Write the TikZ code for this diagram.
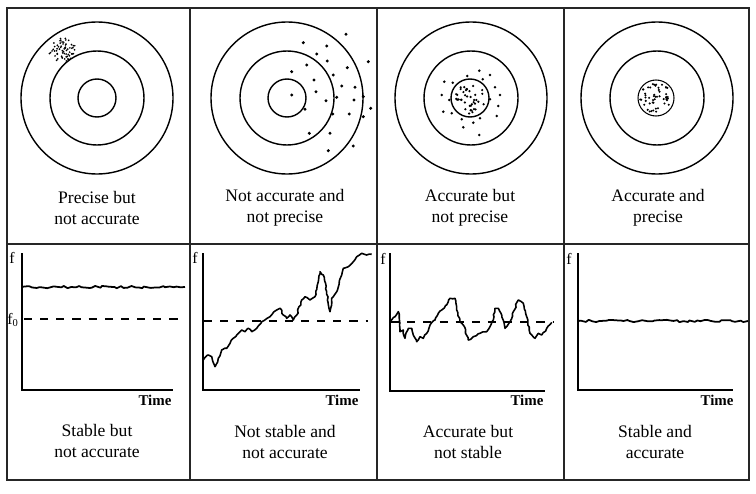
\documentclass[tikz,border=0pt]{standalone}
\usepackage{fontspec}
\setmainfont{Liberation Serif}
\usetikzlibrary{decorations.pathmorphing}
\begin{document}
\begin{tikzpicture}[x=0.02cm,y=-0.02cm,
  frame/.style={line width=0.7pt,black!85},
  ring/.style={line width=0.8pt},
  axisline/.style={line width=1.1pt},
  sig/.style={line width=0.9pt,line join=round,decorate,decoration={random steps,segment length=1.6pt,amplitude=0.45pt}},
  flatsig/.style={line width=1pt,line join=round,decorate,decoration={random steps,segment length=2pt,amplitude=0.7pt}},
  refline/.style={line width=0.8pt,dash pattern=on 4.6pt off 4.6pt},
  captxt/.style={align=center,font=\fontsize{10}{12}\selectfont,inner sep=0pt},
  tlab/.style={font=\fontsize{8.5}{10}\selectfont\bfseries,inner sep=0pt},
  flab/.style={font=\fontsize{9}{10}\selectfont,inner sep=0pt},
  dotm/.style={fill=black}]
\useasboundingbox (0,0) rectangle (756,493);
% frame
\draw[frame] (7,8) rectangle (749,480);
\draw[frame] (7,244) -- (749,244);
\foreach \xx in {190,377,564} \draw[frame] (\xx,8) -- (\xx,480);
% targets
\foreach \cx/\cy in {97/98,287/98,471/98,657/98}{
  \draw[ring] (\cx,\cy) circle[radius=76];
  \draw[ring] (\cx,\cy) circle[radius=47];
}
\foreach \cx/\cy in {97/98,287/98,470/98}
  \draw[ring] (\cx,\cy) circle[radius=19];
\draw[line width=0.6pt] (656,98) circle[radius=18];
% panel 1 cluster
\pgfmathsetseed{7}
\foreach \i in {1,...,65}{
  \pgfmathsetmacro\rr{sqrt(rnd)}
  \pgfmathsetmacro\aa{360*rnd}
  \fill[dotm] ({62+14*\rr*cos(\aa)},{50+12*\rr*sin(\aa)}) circle[radius=0.55pt];
}
% panel 2 scatter
\foreach \px/\py in {346/34.3,303.3/42.7,326.7/46,316.7/54,327.3/61,368.3/61.7,306.7/65,347.3/67.7,291.7/71.7,333.3/75,314/80,341.7/86,355/87.3,316/91.7,291.7/95,336.7/97.3,326/100.7,354/100,363.3/96.7,370.7/108.3,305/109.3,332.7/114,349.3/114,363.3/116.7,309.3/133.3,330/133.3,353.3/146,328.3/150.7}
  \fill[dotm] (\px,\py) circle[radius=0.95pt];
% panel 3 scatter
\foreach \px/\py in {479.3/70.7,467.3/76,490/75,482.7/79.3,444.3/81.7,452.7/82.7,495/87.3,441.7/95,500/95,449.3/100,498.3/106,443.3/111.7,451.7/113.3,496.7/116,461.7/119.3,473.3/122.7,463.3/127.3,479.3/135,490/99.3,480/118.3}
  \fill[dotm] (\px,\py) circle[radius=0.8pt];
\pgfmathsetseed{11}
\foreach \i in {1,...,40}{
  \pgfmathsetmacro\rr{sqrt(rnd)}
  \pgfmathsetmacro\aa{360*rnd}
  \fill[dotm] ({470+16*\rr*cos(\aa)},{98+16*\rr*sin(\aa)}) circle[radius=0.7pt];
}
% panel 4 cluster
\pgfmathsetseed{23}
\foreach \i in {1,...,50}{
  \pgfmathsetmacro\rr{sqrt(rnd)}
  \pgfmathsetmacro\aa{360*rnd}
  \fill[dotm] ({656+16*\rr*cos(\aa)},{98+16*\rr*sin(\aa)}) circle[radius=0.65pt];
}
% top captions
\node[captxt] (c1) at (97,208) {Precise but\\not accurate};
\node[captxt] (c2) at (285,208) {Not accurate and\\not precise};
\node[captxt] (c3) at (470,208) {Accurate but\\not precise};
\node[captxt] (c4) at (658,208) {Accurate and\\precise};
% axes
\draw[axisline] (22,253) -- (22,390) -- (173,390);
\draw[axisline] (203,253) -- (203,390) -- (360,390);
\draw[axisline] (390,253) -- (390,391) -- (545,391);
\draw[axisline] (578,253) -- (578,390) -- (733,390);
% axis labels
\node[flab] (f1) at (12,258) {f};
\node[flab] (f01) at (13,320) {f\textsubscript{0}};
\node[flab] (f2) at (195,258) {f};
\node[flab] (f3) at (383,259) {f};
\node[flab] (f4) at (569,259) {f};
\node[tlab] (t1) at (155,400) {Time};
\node[tlab] (t2) at (342,400) {Time};
\node[tlab] (t3) at (527,400) {Time};
\node[tlab] (t4) at (717,400) {Time};
% reference lines
\draw[refline] (24,319) -- (184,319);
\draw[refline] (204,321) -- (368,321);
\draw[refline] (391,322) -- (553,322);
% signals
\pgfmathsetseed{3}
\draw[flatsig] (22,287) -- (185,287);
\draw[flatsig] (578,321) -- (748,321);
\draw[sig] (203.3,360) -- (208.3,355) -- (211.7,356.7) -- (215,366.7) -- (218.3,358.3) -- (221.7,350) -- (226.7,348.3) -- (230,343.3) -- (233.3,338.3) -- (236.7,335) -- (241.7,330) -- (245,331.7) -- (248.3,328.3) -- (251.7,331.7) -- (256.7,328.3) -- (261.7,321.7) -- (270,316.7) -- (276.7,310) -- (280,308.3) -- (283.3,315) -- (286.7,318.3) -- (290,315) -- (293.3,320) -- (296.7,315) -- (301.7,300) -- (305,296.7) -- (310,300) -- (315,296.7) -- (318.3,281.7) -- (320,271.7) -- (323.3,275) -- (326.7,291.7) -- (330,311.7) -- (331.7,298.3) -- (336.7,291.7) -- (341.7,275) -- (343.3,268.3) -- (348.3,266.7) -- (353.3,261.7) -- (356.7,256.7) -- (361.7,253.3) -- (366.7,255) -- (371.7,254.3);
\draw[sig] (390,321.7) -- (395,316.7) -- (398.3,311.7) -- (400,331.7) -- (403.3,330) -- (405,338.3) -- (408.3,328.3) -- (411.7,328.3) -- (413.3,335) -- (416.7,341.7) -- (420,336.7) -- (423.3,338.3) -- (426.7,333.3) -- (430,325) -- (435,320) -- (438.3,313.3) -- (441.7,310) -- (446.7,305) -- (450,298.3) -- (455,298.3) -- (456.7,310) -- (460,321.7) -- (463.3,325) -- (468.3,340) -- (473.3,336.7) -- (480,333.3) -- (486.7,331.7) -- (490,326.7) -- (493.3,320) -- (495,308.3) -- (498.3,308.3) -- (501.7,315) -- (505,328.3) -- (510,321.7) -- (513.3,311.7) -- (518.3,300) -- (523.3,303.3) -- (526.7,316.7) -- (530,333.3) -- (535,338.3) -- (538.3,333.3) -- (541.7,335) -- (546.7,328.3) -- (551.7,322.3);
% bottom captions
\node[captxt] (b1) at (97,441) {Stable but\\not accurate};
\node[captxt] (b2) at (285,442) {Not stable and\\not accurate};
\node[captxt] (b3) at (468,442) {Accurate but\\not stable};
\node[captxt] (b4) at (655,442) {Stable and\\accurate};
\end{tikzpicture}
\end{document}
